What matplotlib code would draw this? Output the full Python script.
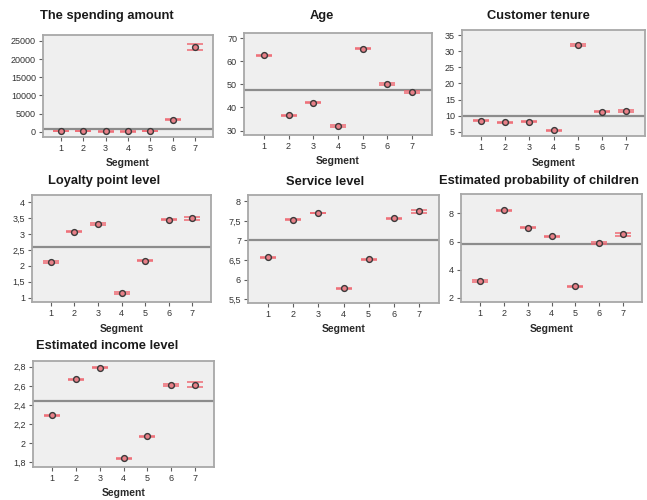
import numpy as np
import matplotlib
matplotlib.use("Agg")
import matplotlib.pyplot as plt
from matplotlib.ticker import FuncFormatter, MultipleLocator

plt.rcParams['font.family'] = ['Liberation Sans', 'DejaVu Sans']

segments = [1, 2, 3, 4, 5, 6, 7]

spending = [200, 220, 150, 160, 230, 3300, 23300]
spending_ci = [60, 60, 60, 60, 60, 150, 700]
spending_mean = 730

age = [62.6, 36.6, 42.1, 32.0, 65.4, 50.1, 46.8]
age_ci = [0.3, 0.3, 0.3, 0.3, 0.3, 0.3, 0.4]
age_mean = 47.5

tenure = [8.5, 7.9, 8.2, 5.5, 32.0, 11.3, 11.6]
tenure_ci = [0.2, 0.2, 0.2, 0.2, 0.3, 0.2, 0.3]
tenure_mean = 10.0

loyalty = [2.12, 3.08, 3.32, 1.14, 2.16, 3.45, 3.49]
loyalty_ci = [0.02, 0.02, 0.02, 0.02, 0.02, 0.02, 0.04]
loyalty_mean = 2.60

service = [6.57, 7.53, 7.70, 5.78, 6.52, 7.56, 7.74]
service_ci = [0.01, 0.01, 0.01, 0.01, 0.01, 0.02, 0.04]
service_mean = 7.02

children = [3.21, 8.21, 7.00, 6.38, 2.83, 5.90, 6.52]
children_ci = [0.05, 0.05, 0.05, 0.05, 0.05, 0.05, 0.12]
children_mean = 5.86

income = [2.29, 2.67, 2.79, 1.84, 2.07, 2.61, 2.61]
income_ci = [0.005, 0.005, 0.005, 0.005, 0.005, 0.01, 0.025]
income_mean = 2.44

# title, values, CI half-widths, grand mean, axes box (px), title anchor (px), y-limits, tick step
panels = [
    ("The spending amount", spending, spending_ci, spending_mean,
     (43, 35, 213, 137), (107, 16), (-1400, 26600), 5000),
    ("Age", age, age_ci, age_mean,
     (244, 33, 432, 135), (322, 16), (28.1, 72.2), 10),
    ("Customer tenure", tenure, tenure_ci, tenure_mean,
     (462, 30, 645, 136), (538, 16), (3.7, 36.6), 5),
    ("Loyalty point level", loyalty, loyalty_ci, loyalty_mean,
     (32, 195, 211, 302), (104, 181), (0.86, 4.23), 0.5),
    ("Service level", service, service_ci, service_mean,
     (248, 195, 439, 303), (325, 182), (5.4, 8.16), 0.5),
    ("Estimated probability of children", children, children_ci, children_mean,
     (461, 194, 642, 302), (539, 181), (1.71, 9.38), 2),
    ("Estimated income level", income, income_ci, income_mean,
     (33, 361, 214, 467), (107, 346), (1.75, 2.86), 0.2),
]

W, H = 647, 500
fig = plt.figure(figsize=(W / 100, H / 100), dpi=100)
fig.patch.set_facecolor("white")

comma = FuncFormatter(lambda v, p: ("%g" % round(v, 6)).replace(".", ","))

for title, vals, ci, mean, (x0, y0, x1, y1), (tx, ty), ylim, step in panels:
    ax = fig.add_axes([x0 / W, 1 - y1 / H, (x1 - x0) / W, (y1 - y0) / H])
    ax.set_facecolor("#efefef")
    for s in ax.spines.values():
        s.set_color("#a8a8a8")
        s.set_linewidth(1.3)
    ax.axhline(mean, color="#8c8c8c", lw=1.6, zorder=1)
    ax.errorbar(segments, vals, yerr=ci, fmt="none", ecolor="#ee6a74",
                elinewidth=0.8, capsize=5.5, capthick=1.1, zorder=3)
    ax.plot(segments, vals, "o", ms=4.2, mfc="#e88088", mec="#3a3a3a",
            mew=1.0, zorder=4, ls="none")
    ax.set_xlim(0.2, 7.8)
    ax.set_ylim(*ylim)
    ax.set_xticks(segments)
    ax.yaxis.set_major_locator(MultipleLocator(step))
    ax.yaxis.set_major_formatter(comma)
    ax.tick_params(axis="both", direction="out", length=3, width=0.8,
                   color="#606060", labelsize=6.5, labelcolor="#333333", pad=2)
    ax.set_xlabel("Segment", fontsize=7.5, fontweight="bold", color="#2a2a2a",
                  labelpad=4)
    fig.text(tx / W, 1 - ty / H, title, ha="center", va="center",
             fontsize=9.3, fontweight="bold", color="#1a1a1a")

fig.savefig("out.png", dpi=100)
